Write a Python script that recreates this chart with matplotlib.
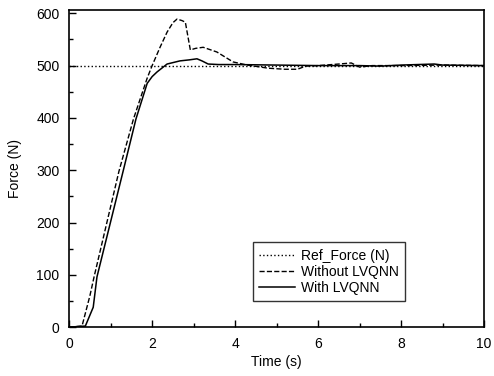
import matplotlib
matplotlib.use("Agg")
import matplotlib.pyplot as plt
import matplotlib.ticker as tkr

plt.rcParams['font.family'] = ['Liberation Sans', 'DejaVu Sans']

# reference force
t_ref = [0, 10]
f_ref = [500, 500]

# without LVQNN (dashed)
t_without = [0, 0.31, 0.5, 0.6, 1.2, 1.55, 1.88, 2.0, 2.19, 2.36, 2.5, 2.6, 2.72, 2.8, 2.92, 3.05, 3.23,
             3.56, 3.95, 4.29, 4.8, 5.2, 5.5, 5.7, 6.0, 6.5, 6.8, 7.0, 7.3, 8.0, 9.0, 10.0]
f_without = [0, 2, 60, 96, 298, 398, 476, 500, 535, 564, 582, 589, 586, 583, 530, 533, 535,
             526, 507, 501, 495, 493, 493, 499, 500, 503, 505, 497, 500, 500, 501, 500]

# with LVQNN (solid)
t_with = [0, 0.39, 0.58, 0.67, 1.3, 1.61, 1.88, 2.0, 2.12, 2.36, 2.67, 2.9, 3.08, 3.2, 3.35, 3.6, 4.0,
          5.0, 6.0, 7.0, 7.5, 8.0, 8.8, 9.0, 10.0]
f_with = [0, 2, 38, 96, 298, 398, 466, 479, 488, 503, 509, 511, 513, 509, 503, 502, 502,
          501, 500, 500, 499, 501, 503, 501, 500]

fig = plt.figure(figsize=(4.94, 3.76), dpi=100)
ax = fig.add_axes([0.140, 0.130, 0.840, 0.843])

ax.plot(t_ref, f_ref, color="black", linestyle=":", linewidth=1, label="Ref_Force (N)")
ax.plot(t_without, f_without, color="black", linestyle="--", linewidth=1, label="Without LVQNN")
ax.plot(t_with, f_with, color="black", linestyle="-", linewidth=1.1, label="With LVQNN")

ax.set_xlim(0, 10)
ax.set_ylim(0, 606)
ax.xaxis.set_major_locator(tkr.MultipleLocator(2))
ax.xaxis.set_minor_locator(tkr.MultipleLocator(1))
ax.yaxis.set_major_locator(tkr.MultipleLocator(100))
ax.yaxis.set_minor_locator(tkr.MultipleLocator(50))
ax.tick_params(which="both", direction="in", labelsize=10)
ax.tick_params(which="major", length=5, width=1, pad=7)
ax.tick_params(which="minor", length=3, width=1)
for s in ax.spines.values():
    s.set_linewidth(1.2)

ax.set_xlabel("Time (s)", fontsize=10, labelpad=3)
ax.set_ylabel("Force (N)", fontsize=10, labelpad=10)

leg = ax.legend(loc="lower right", bbox_to_anchor=(0.826, 0.06), fontsize=10, frameon=True,
                fancybox=False, edgecolor="black", handlelength=2.6, handletextpad=0.4,
                borderpad=0.45, labelspacing=0.15)
leg.get_frame().set_linewidth(1)

fig.savefig("out.png", dpi=100)
